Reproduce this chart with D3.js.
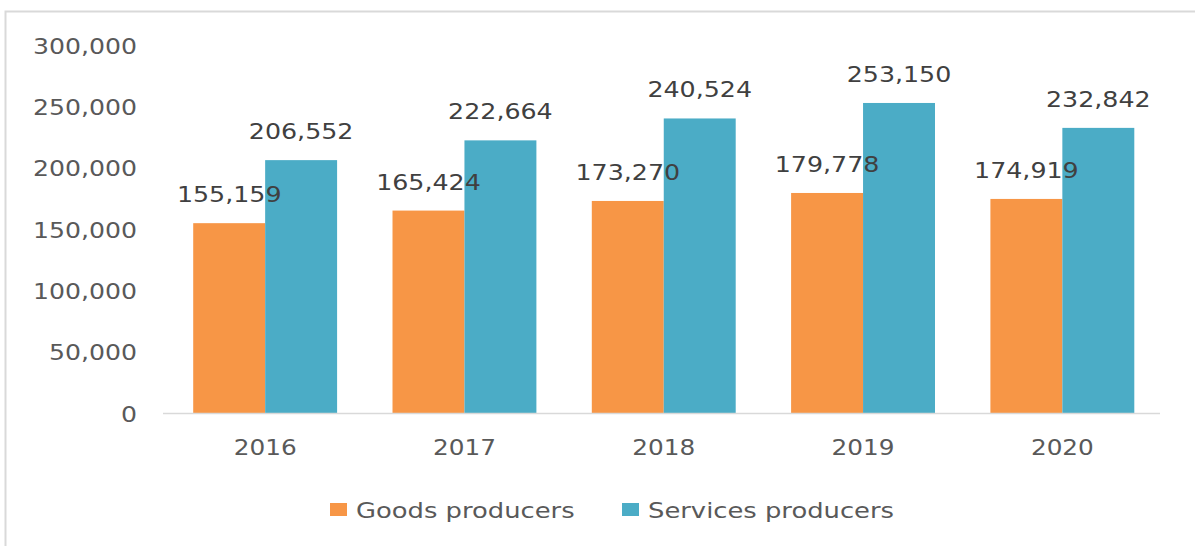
<!DOCTYPE html>
<html><head><meta charset="utf-8">
<script src="https://cdn.jsdelivr.net/npm/d3@7"></script>
<style>html,body{margin:0;padding:0;background:#fff;}svg{display:block;}</style>
</head><body>
<svg id="chart" width="1195" height="546"></svg>
<script>
const categories = ["2016","2017","2018","2019","2020"];
const seriesNames = ["Goods producers","Services producers"];
const goods = [155159,165424,173270,179778,174919];
const services = [206552,222664,240524,253150,232842];
const yTicks = [0,50000,100000,150000,200000,250000,300000];
const colors = ["#F79646","#4BACC6"];

const svg = d3.select("#chart");
const W = 1195, H = 546;
const FONT = "DejaVu Sans, Verdana, sans-serif";

// outer border
svg.append("rect").attr("x",5.5).attr("y",11.5).attr("width",W+10).attr("height",H+10)
  .attr("fill","#fff").attr("stroke","#d9d9d9").attr("stroke-width",2);

const x0 = d3.scaleBand().domain(categories).range([165.5,1162]).paddingInner(0.278).paddingOuter(0.139);
const x1 = d3.scaleBand().domain(seriesNames).range([0,x0.bandwidth()]);
const y = d3.scaleLinear().domain([0,300000]).range([413.5,45.5]);
const fmt = d3.format(",");

function stretch(k){
  return sel => sel.each(function(){
    const w = this.getComputedTextLength();
    d3.select(this).attr("textLength", w*k).attr("lengthAdjust","spacingAndGlyphs");
  });
}

// y axis (labels only)
const yAxis = d3.axisLeft(y).tickValues(yTicks).tickFormat(fmt).tickSize(0).tickPadding(0);
const yg = svg.append("g").attr("transform","translate(137,0)").call(yAxis);
yg.select(".domain").remove();
yg.selectAll("text").attr("font-family",FONT).attr("font-size",21.5).attr("fill","#595959").attr("dy","0.36em").call(stretch(1.17));

// bars
const data = categories.map((c,i)=>({cat:c, vals:[goods[i],services[i]]}));
const groups = svg.append("g").selectAll("g").data(data).join("g")
  .attr("transform",d=>`translate(${x0(d.cat)},0)`);
groups.selectAll("rect").data(d=>d.vals.map((v,j)=>({v,s:seriesNames[j],j})))
  .join("rect")
  .attr("x",d=>x1(d.s)).attr("width",x1.bandwidth())
  .attr("y",d=>y(d.v)).attr("height",d=>y(0)-y(d.v))
  .attr("fill",d=>colors[d.j]);

// baseline
svg.append("line").attr("x1",163).attr("x2",1160).attr("y1",y(0)).attr("y2",y(0))
  .attr("stroke","#d9d9d9").attr("stroke-width",1.5);

// data labels
groups.selectAll("text.lbl").data(d=>d.vals.map((v,j)=>({v,s:seriesNames[j],j})))
  .join("text").attr("class","lbl")
  .attr("x",d=>x1(d.s)+x1.bandwidth()/2)
  .attr("y",d=>y(d.v)-21)
  .attr("text-anchor","middle")
  .attr("font-family",FONT).attr("font-size",22).attr("fill","#404040")
  .text(d=>fmt(d.v)).call(stretch(1.15));

// x axis labels
const xAxis = d3.axisBottom(x0).tickSize(0).tickPadding(0);
const xg = svg.append("g").attr("transform",`translate(0,${y(0)})`).call(xAxis);
xg.select(".domain").remove();
xg.selectAll("text").attr("font-family",FONT).attr("font-size",21.5).attr("fill","#595959")
  .attr("dy",0).attr("y",41).call(stretch(1.15));

// legend
const legendX = [330,622];
const lg = svg.append("g").selectAll("g").data(seriesNames).join("g")
  .attr("transform",(d,i)=>`translate(${legendX[i]},0)`);
lg.append("rect").attr("x",0).attr("y",503).attr("width",17).attr("height",13).attr("fill",(d,i)=>colors[i]);
lg.append("text").attr("x",26).attr("y",518)
  .attr("font-family",FONT).attr("font-size",21.5).attr("fill","#595959")
  .text(d=>d).call(stretch(1.2));
</script>
</body></html>
